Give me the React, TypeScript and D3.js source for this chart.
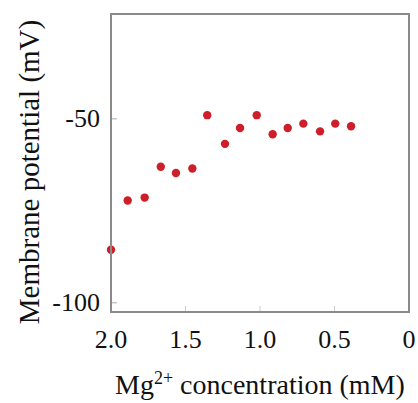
import React from "react";
import * as d3 from "d3";

// Mg2+ concentration (mM) and membrane potential (mV)
const mgConc = [2.0, 1.888, 1.774, 1.666, 1.564, 1.454, 1.354, 1.235, 1.134, 1.022, 0.915, 0.814, 0.709, 0.597, 0.495, 0.389];
const potential = [-85.6, -72.2, -71.4, -63.0, -64.7, -63.5, -49.0, -56.8, -52.5, -49.0, -54.2, -52.5, -51.3, -53.4, -51.3, -52.0];

const xTicks = [2.0, 1.5, 1.0, 0.5, 0];
const xTickLabels = ["2.0", "1.5", "1.0", "0.5", "0"];
const yTicks = [-50, -100];
const yTickLabels = ["-50", "-100"];

const W = 418;
const H = 403;
const margin = { top: 14, right: 9, bottom: 91, left: 111 };
const textStyle = { fontFamily: '"Liberation Serif", "DejaVu Serif", serif' };

export default function App() {
  const innerW = W - margin.left - margin.right;
  const innerH = H - margin.top - margin.bottom;

  const x = d3.scaleLinear().domain([2, 0]).range([0, innerW]);
  const y = d3.scaleLinear().domain([-102.5, -21.5]).range([innerH, 0]);

  const pts = mgConc.map((c, i) => ({ c, v: potential[i] }));

  return (
    <svg
      width={W}
      height={H}
      style={{ position: "absolute", left: 0, top: 0, background: "#fff" }}
    >
      <g transform={`translate(${margin.left},${margin.top})`}>
        {/* inner ticks */}
        {xTicks.slice(1, -1).map((t) => (
          <line key={t} x1={x(t)} x2={x(t)} y1={innerH} y2={innerH - 6} stroke="#ccc" strokeWidth={1} />
        ))}
        {yTicks.map((t) => (
          <line key={t} x1={0} x2={6} y1={y(t)} y2={y(t)} stroke="#aaa" strokeWidth={1} />
        ))}

        {pts.map((d, i) => (
          <circle key={i} cx={x(d.c)} cy={y(d.v)} r={4.2} fill="#cc1f29" />
        ))}

        <rect x={0} y={0} width={innerW} height={innerH} fill="none" stroke="#8a8a8a" strokeWidth={2} />

        {xTicks.map((t, i) => (
          <text key={t} x={x(t)} y={innerH + 36} textAnchor="middle" fontSize={26} fill="#111" style={textStyle}>
            {xTickLabels[i]}
          </text>
        ))}
        {yTicks.map((t, i) => (
          <text key={t} x={-11} y={y(t)} dy="0.33em" textAnchor="end" fontSize={26} fill="#111" style={textStyle}>
            {yTickLabels[i]}
          </text>
        ))}
      </g>

      <text x={115} y={394} fontSize={28} fill="#111" style={textStyle}>
        Mg
        <tspan fontSize={18} dy={-10}>2+</tspan>
        <tspan dy={10}> concentration (mM)</tspan>
      </text>

      <text transform="translate(39,172) rotate(-90)" textAnchor="middle" fontSize={29} fill="#111" style={textStyle}>
        Membrane potential (mV)
      </text>
    </svg>
  );
}
